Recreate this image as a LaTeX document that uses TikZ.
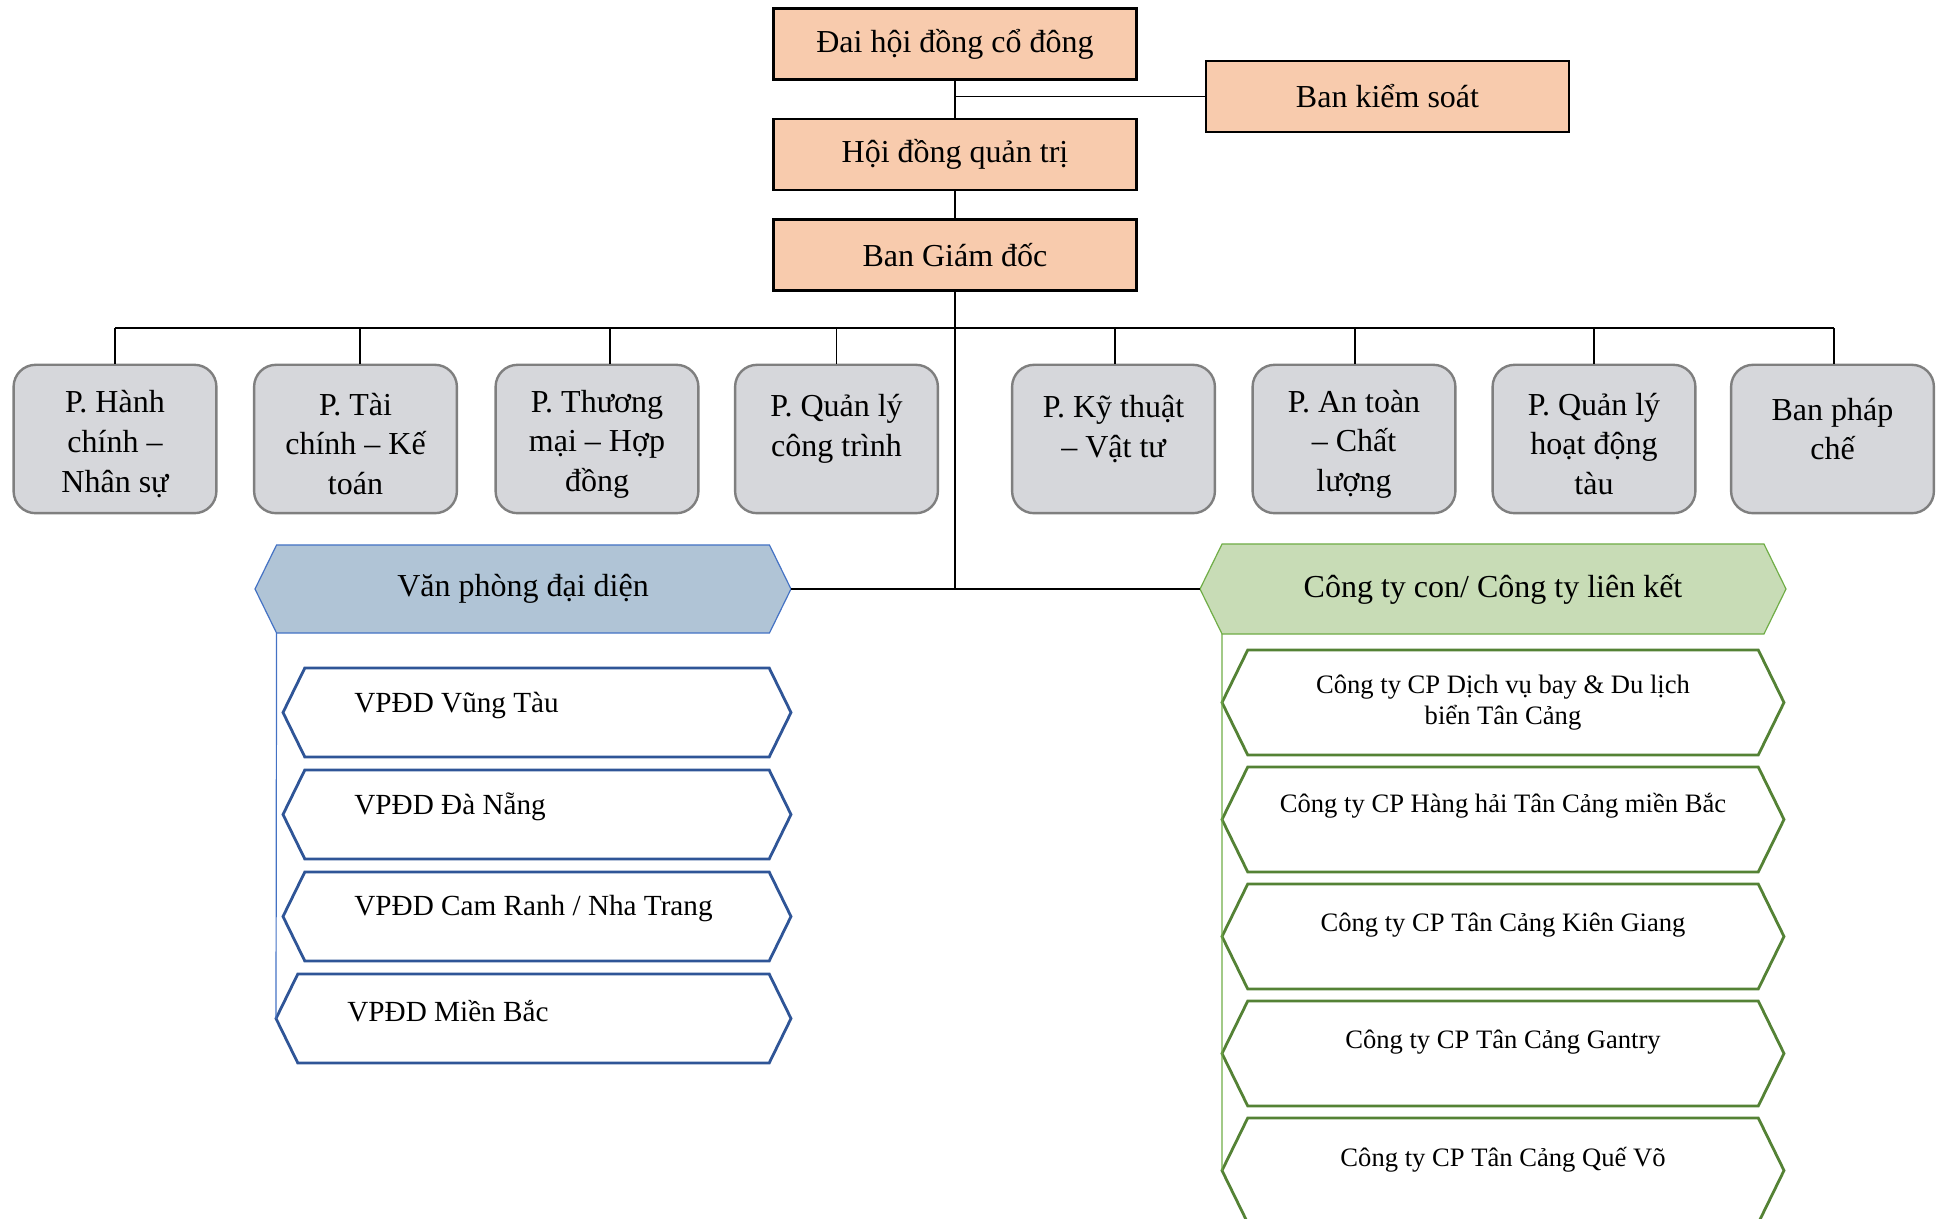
\documentclass[tikz,border=0pt]{standalone}
\usepackage{fontspec}
\setmainfont{Liberation Serif}

\definecolor{peach}{HTML}{F8CBAD}
\definecolor{paleGrey}{HTML}{D6D7DB}
\definecolor{edgeGrey}{HTML}{7F7F7F}
\definecolor{steelFill}{HTML}{B0C4D6}
\definecolor{steelEdge}{HTML}{4472C4}
\definecolor{navyEdge}{HTML}{2F5597}
\definecolor{sageFill}{HTML}{C8DCB6}
\definecolor{sageEdge}{HTML}{70AD47}
\definecolor{oliveEdge}{HTML}{548235}

\newcommand\hexBox[6]{
  \pgfmathsetmacro\hexMid{(#5+#6)/2}
  \pgfmathsetmacro\hexSlant{0.245*(#6-#5)}
  \draw[#1] (#3,\hexMid) -- (#3+\hexSlant,#5) -- (#4-\hexSlant,#5) -- (#4,\hexMid)
    -- (#4-\hexSlant,#6) -- (#3+\hexSlant,#6) -- cycle;
  \coordinate (#2-w) at (#3,\hexMid);
  \coordinate (#2-e) at (#4,\hexMid);
  \coordinate (#2-sw) at (#3+\hexSlant,#6);
  \coordinate (#2-c) at ({(#3+#4)/2},\hexMid);
}

\tikzset{
  topbox/.style={draw=black, line width=1.2pt, fill=peach, minimum width=181.5pt,
    minimum height=35.5pt, font=\fontsize{16}{19}\selectfont},
  deptbox/.style={draw=edgeGrey, line width=1.2pt, fill=paleGrey, rounded corners=11pt,
    minimum width=101.4pt, minimum height=74.2pt},
  depttext/.style={align=center, font=\fontsize{16}{19.8}\selectfont},
  link/.style={draw=black, line width=0.7pt},
  headhex/.style={line width=0.6pt},
  headtext/.style={font=\fontsize{16}{19}\selectfont},
  officehex/.style={draw=navyEdge, fill=white, line width=1.4pt},
  officetext/.style={anchor=west, inner xsep=0pt, font=\fontsize{14.6}{17.5}\selectfont},
  companyhex/.style={draw=oliveEdge, fill=white, line width=1.4pt},
  comptext/.style={align=center, font=\fontsize{13.3}{15.5}\selectfont},
}

\begin{document}
\begin{tikzpicture}[x=0.5pt,y=-0.5pt]
  \useasboundingbox (0,0) rectangle (1939,1219);
  \clip (0,0) rectangle (1939,1219);

  \node[topbox] (dhcd) at (955,44) {Đai hội đồng cổ đông};
  \node[topbox] (bks) at (1387.5,96.5) {Ban kiểm soát};
  \node[topbox] (hdqt) at (955,154.5) {Hội đồng quản trị};
  \node[topbox] (bgd) at (955,255) {Ban Giám đốc};

  \draw[link] (dhcd.south) -- (hdqt.north);
  \draw[link] (hdqt.south) -- (bgd.north);
  \draw[link] (bks.west) -- (bks.west -| dhcd.south);

  \coordinate (bus) at (955,328);
  \foreach \i/\xc/\dx/\shift/\txt in {
      1/115/0/5/{P. Hành\\chính –\\Nhân sự},
      2/355.5/4.5/5/{P. Tài\\chính – Kế\\toán},
      3/597/13/5/{P. Thương\\mại – Hợp\\đồng},
      4/836.5/0/-10/{P. Quản lý\\công trình},
      5/1113.5/1.5/-10/{P. Kỹ thuật\\– Vật tư},
      6/1354/1/5/{P. An toàn\\– Chất\\lượng},
      7/1594/0/5/{P. Quản lý\\hoạt động\\tàu},
      8/1832.5/1.5/-10/{Ban pháp\\chế}} {
    \node[deptbox] (dept\i) at (\xc,439) {};
    \node[depttext] (dept\i-txt) at (\xc,439+\shift) {\txt};
    \draw[link] ([xshift=\dx*0.5pt]dept\i.north) -- ([xshift=\dx*0.5pt]dept\i.north |- bus);
  }
  \draw[link] (dept1.north |- bus) -- ([xshift=0.75pt]dept8.north |- bus);

  \begin{scope}
    \hexBox{headhex, fill=steelFill, draw=steelEdge}{vp}{255}{791}{545}{633}
    \node[headtext] (vp) at (vp-c) {Văn phòng đại diện};

    \foreach \i/\yTop/\xLeft/\txt in {
        1/668/283/{VPĐD Vũng Tàu},
        2/770/283/{VPĐD Đà Nẵng},
        3/872/283/{VPĐD Cam Ranh / Nha Trang},
        4/974/276/{VPĐD Miền Bắc}} {
      \hexBox{officehex}{vd\i}{\xLeft}{791}{\yTop}{\yTop+89}
      \node[officetext] (vd\i-txt) at (\xLeft+71,\yTop+37) {\txt};
    }

    \draw[steelEdge, line width=0.6pt] (vp-sw) -- (vd4-w);
  \end{scope}

  \begin{scope}
    \hexBox{headhex, fill=sageFill, draw=sageEdge}{ct}{1200}{1786}{544}{634}
    \node[headtext] (ct) at (ct-c) {Công ty con/ Công ty liên kết};

    \foreach \i/\yTop/\shift/\txt in {
        1/650/0/{Công ty CP Dịch vụ bay \& Du lịch\\biển Tân Cảng},
        2/767/14/{Công ty CP Hàng hải Tân Cảng miền Bắc},
        3/884/11/{Công ty CP Tân Cảng Kiên Giang},
        4/1001/11/{Công ty CP Tân Cảng Gantry},
        5/1118/11/{Công ty CP Tân Cảng Quế Võ}} {
      \hexBox{companyhex}{co\i}{1222}{1784}{\yTop}{\yTop+105}
      \node[comptext] (co\i-txt) at (1503,\yTop+52.5-\shift) {\txt};
    }

    \draw[sageEdge, line width=0.6pt] (ct-sw) -- (co5-w);
  \end{scope}

  \draw[link] (bgd.south) -- (bgd.south |- vp-e);
  \draw[link] (vp-e) -- (ct-w);
\end{tikzpicture}
\end{document}
